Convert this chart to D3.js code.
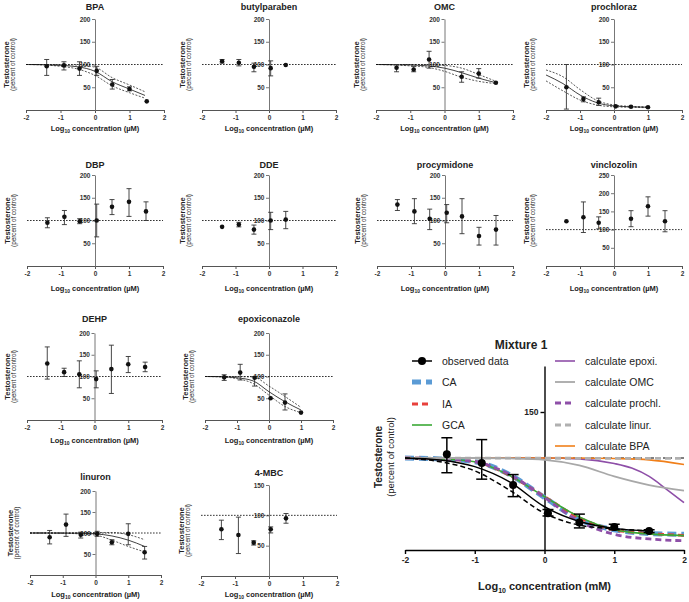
<!DOCTYPE html>
<html><head><meta charset="utf-8">
<script src="https://cdn.jsdelivr.net/npm/d3@7"></script>
<style>body{margin:0;background:#fff}svg{display:block}</style>
</head><body><svg id="c" width="689" height="602"></svg>
<script>
const xTicks=[-2,-1,0,1,2];
// ---- BPA
const bpaX=[-1.4,-0.9,-0.45,0.05,0.5,1,1.5];
const bpaY=[96,98,91,86,56,46,19];
const bpaLo=[76,88,76,76,46,42,null];
const bpaHi=[111,106,106,96,67,51,null];
const bpaCurveX=[-2,-1.5,-1,-0.5,0,0.5,1,1.45];
const bpaFit=[100,99.5,98,95,85,62,46,32];
const bpaUpper=[100,100,99.5,99,94,71,55,40];
const bpaLower=[100,99,96,90,76,53,38,26];
// ---- butylparaben
const butX=[-1.4,-0.9,-0.45,0.05,0.5];
const butY=[107,104,95,92,99];
const butLo=[103,97,84,75,null];
const butHi=[111,111,103,108,null];
// ---- OMC
const omcX=[-1.4,-0.9,-0.45,0.5,1,1.5];
const omcY=[93,89,111,73,80,60];
const omcLo=[84,84,92,61,70,null];
const omcHi=[100,96,129,84,91,null];
const omcCurveX=[-2,-1.5,-1,-0.5,0,0.5,1,1.5];
const omcFit=[100,99.5,99,97,92,82,70,60];
const omcUpper=[100,100,100,99.5,98,92,78,63];
const omcLower=[100,99,97,94,85,72,63,58];
// ---- prochloraz
const proX=[-1.4,-0.9,-0.45,0.05,0.5,1];
const proY=[50,24,17,8,7,6];
const proLo=[2,18,10,null,null,null];
const proHi=[100,29,26,null,null,null];
const proCurveX=[-2,-1.5,-1,-0.5,0,0.5,1];
const proFit=[77,58,33,16,9,7,6];
const proUpper=[88,73,45,21,11,8,7];
const proLower=[64,42,22,11,7,6,5];
// ---- DBP
const dbpX=[-1.4,-0.9,-0.45,0.05,0.5,1,1.5];
const dbpY=[95,108,98.5,100,130,141,120];
const dbpLo=[84,91,93,64,113,109,100];
const dbpHi=[106,122,104,136,146,170,141];
// ---- DDE
const ddeX=[-1.4,-0.9,-0.45,0.05,0.5];
const ddeY=[86,91,80,100,102];
const ddeLo=[null,86,70,80,82];
const ddeHi=[null,96,90,118,120];
// ---- procymidone
const pcyX=[-1.4,-0.9,-0.45,0.05,0.5,1,1.5];
const pcyY=[135,120,104,117,109,66,80];
const pcyLo=[122,93,80,95,71,46,46];
const pcyHi=[146,148,125,135,148,85,111];
// ---- vinclozolin
const vinX=[-1.4,-0.9,-0.45,0.5,1,1.5];
const vinY=[123,134,119,130,164,123];
const vinLo=[null,92,102,108,137,94];
const vinHi=[null,176,135,152,190,152];
// ---- DEHP
const dehX=[-1.4,-0.9,-0.45,0.05,0.5,1,1.5];
const dehY=[130,110,105,94,117,128,122];
const dehLo=[94,100,74,74,61,109,111];
const dehHi=[168,119,136,113,172,146,133];
// ---- epoxiconazole
const epoX=[-1.4,-0.9,-0.45,0.05,0.5,1];
const epoY=[98,109,97,50,40,17];
const epoLo=[91,92,78,null,23,null];
const epoHi=[104,128,100,null,60,null];
const epoCurveX=[-2,-1.5,-1,-0.5,0,0.5,1];
const epoFit=[100,99.5,97,90,65,42,23];
const epoUpper=[100,100,99.5,99,78,54,29];
const epoLower=[100,99,95,84,57,31,17];
// ---- linuron
const linX=[-1.4,-0.9,-0.45,0.05,0.5,1,1.5];
const linY=[90,120,96,98,78,98,54];
const linLo=[74,92,88,92,72,72,38];
const linHi=[106,145,102,104,84,122,68];
const linCurveX=[-2,-1.5,-1,-0.5,0,0.5,1,1.5];
const linFit=[100,100,99.8,99.5,98,93,83,68];
const linUpper=[100,100,100,100.5,101,101,96,84];
const linLower=[100,100,99.5,98,95,83,68,55];
// ---- 4-MBC
const mbcX=[-1.4,-0.9,-0.45,0.05,0.5];
const mbcY=[77,67.5,55,77,95];
const mbcLo=[60,37,51,71,87];
const mbcHi=[92,97,58,81,103];
// ---- Mixture 1
const mixObsX=[-1.4,-0.9,-0.45,0.05,0.5,1,1.5];
const mixObsY=[104,94.5,70.6,40,30,25,20.6];
const mixObsLo=[84,77,58,37,24,22,19];
const mixObsHi=[122,120,82,44,39,28,22];
const mixFitX=[-2,-1.5,-1,-0.5,0,0.5,1,1.5];
const mixFit=[100,97.8,90.6,74,47,31,23.5,20.6];
const mixFitDash=[100,96,86,65,40,27,23,21];
const mixCalcX=[-2,-1.5,-1,-0.5,0,0.5,1,1.5,2];
const caY=[100,99,96,82,57,33,22,18,17];
const iaY=[100,99,96,81,58,35,22,18,16];
const gcaY=[100,99,96,81,58,36,22,17.5,15.6];
const prochlY=[100,99,96,82,57,31,17,12,10];
const epoxiX=[-2,-1,0,0.5,1,1.25,1.5,1.75,2];
const epoxiY=[100,100,100,99,94,89,80,66,51.5];
const omcCalcX=[-2,-1,-0.5,0,0.5,1,1.5,2];
const omcCalcY=[100,100,99.5,98,92,80,70.6,64.5];
const bpaCalcX=[-2,0,0.5,1,1.5,2];
const bpaCalcY=[100,100,100,99.5,98,93];
const linurCalcX=[-2,2];
const linurCalcY=[100,99.5];
const legendLeft=["observed data","CA","IA","GCA"];
const legendRight=["calculate epoxi.","calculate OMC","calculate prochl.","calculate linur.","calculate BPA"];

const FONT='"Liberation Sans", Arial, Helvetica, sans-serif';
const svg=d3.select('#c').attr('font-family',FONT);

const panels=[
 {t:'BPA',xr:[26,164],y0:110,yTop:19,ymax:200,ty:10,ly:131,x:bpaX,y:bpaY,lo:bpaLo,hi:bpaHi,cx:bpaCurveX,fit:bpaFit,up:bpaUpper,dn:bpaLower},
 {t:'butylparaben',xr:[202,336],y0:110,yTop:19,ymax:200,ty:10,ly:131,x:butX,y:butY,lo:butLo,hi:butHi},
 {t:'OMC',xr:[376,513],y0:110,yTop:19,ymax:200,ty:10,ly:131,x:omcX,y:omcY,lo:omcLo,hi:omcHi,cx:omcCurveX,fit:omcFit,up:omcUpper,dn:omcLower},
 {t:'prochloraz',xr:[546,682],y0:110,yTop:19,ymax:200,ty:10,ly:131,x:proX,y:proY,lo:proLo,hi:proHi,cx:proCurveX,fit:proFit,up:proUpper,dn:proLower},
 {t:'DBP',xr:[27,163],y0:266,yTop:175,ymax:200,ty:168,ly:291,x:dbpX,y:dbpY,lo:dbpLo,hi:dbpHi},
 {t:'DDE',xr:[202,336],y0:266,yTop:175,ymax:200,ty:168,ly:291,x:ddeX,y:ddeY,lo:ddeLo,hi:ddeHi},
 {t:'procymidone',xr:[377,513],y0:266,yTop:175,ymax:200,ty:168,ly:291,x:pcyX,y:pcyY,lo:pcyLo,hi:pcyHi},
 {t:'vinclozolin',xr:[546,682],y0:266,yTop:175,ymax:250,ty:168,ly:291,x:vinX,y:vinY,lo:vinLo,hi:vinHi},
 {t:'DEHP',xr:[27,162],y0:420,yTop:333,ymax:200,ty:322,ly:443,x:dehX,y:dehY,lo:dehLo,hi:dehHi},
 {t:'epoxiconazole',xr:[205,333],y0:420,yTop:333,ymax:200,ty:322,ly:443,x:epoX,y:epoY,lo:epoLo,hi:epoHi,cx:epoCurveX,fit:epoFit,up:epoUpper,dn:epoLower},
 {t:'linuron',xr:[30,161],y0:575,yTop:491,ymax:200,ty:480,ly:597,x:linX,y:linY,lo:linLo,hi:linHi,cx:linCurveX,fit:linFit,up:linUpper,dn:linLower},
 {t:'4-MBC',xr:[201,337],y0:576,yTop:485,ymax:150,ty:476,ly:597,x:mbcX,y:mbcY,lo:mbcLo,hi:mbcHi}
];

function styleAxis(a,fs,col){
  a.attr('font-family',FONT);
  a.selectAll('path,line').attr('stroke',col).attr('stroke-width',1);
  a.selectAll('text').attr('font-size',fs).attr('font-weight','bold').attr('fill','#333');
}

function drawPanel(p){
  const g=svg.append('g');
  const xs=d3.scaleLinear().domain([-2,2]).range(p.xr);
  const ys=d3.scaleLinear().domain([0,p.ymax]).range([p.y0,p.yTop]);
  const yt=d3.range(50,p.ymax+1,50);
  const xa=g.append('g').attr('transform',`translate(0,${p.y0})`)
    .call(d3.axisBottom(xs).tickValues(xTicks).tickSize(3).tickSizeOuter(0).tickPadding(2).tickFormat(d=>String(d)));
  const ya=g.append('g').attr('transform',`translate(${xs(0)},0)`)
    .call(d3.axisLeft(ys).tickValues(yt).tickSize(3).tickSizeOuter(0).tickPadding(1.5));
  styleAxis(xa,6.5,'#555');styleAxis(ya,6.5,'#777');
  g.append('line').attr('x1',xs(-2)).attr('x2',xs(2)).attr('y1',ys(100)).attr('y2',ys(100))
    .attr('stroke','#000').attr('stroke-width',0.8).attr('stroke-dasharray','1.6,1.4');
  if(p.cx){
    const mk=arr=>d3.line().x((d,i)=>xs(p.cx[i])).y(d=>ys(d)).curve(d3.curveMonotoneX)(arr);
    g.append('path').attr('d',mk(p.fit)).attr('fill','none').attr('stroke','#111').attr('stroke-width',0.8);
    [p.up,p.dn].forEach(a=>g.append('path').attr('d',mk(a)).attr('fill','none').attr('stroke','#111').attr('stroke-width',0.7).attr('stroke-dasharray','2,1.5'));
  }
  p.x.forEach((xv,i)=>{
    if(p.lo[i]==null) return;
    const X=xs(xv);
    g.append('line').attr('x1',X).attr('x2',X).attr('y1',ys(p.lo[i])).attr('y2',ys(p.hi[i])).attr('stroke','#333').attr('stroke-width',0.9);
    [p.lo[i],p.hi[i]].forEach(v=>g.append('line').attr('x1',X-2.5).attr('x2',X+2.5).attr('y1',ys(v)).attr('y2',ys(v)).attr('stroke','#333').attr('stroke-width',0.9));
  });
  g.selectAll('circle.pt').data(p.x).join('circle').attr('cx',d=>xs(d)).attr('cy',(d,i)=>ys(p.y[i])).attr('r',2.3).attr('fill','#111');
  g.append('text').attr('x',xs(0)).attr('y',p.ty).attr('text-anchor','middle').attr('font-size',9).attr('font-weight','bold').attr('fill','#222').text(p.t);
  const xl=g.append('text').attr('x',xs(0)).attr('y',p.ly).attr('text-anchor','middle').attr('font-size',7.5).attr('font-weight','bold').attr('fill','#222');
  xl.append('tspan').text('Log');
  xl.append('tspan').attr('font-size',5).attr('dy',2).text('10');
  xl.append('tspan').attr('dy',-2).text(' concentration (\u00b5M)');
  const cy=(p.y0+p.yTop)/2;
  g.append('text').attr('transform',`translate(${p.xr[0]-20},${cy}) rotate(-90)`).attr('text-anchor','middle').attr('dy','0.35em')
    .attr('font-size',7.5).attr('font-weight','bold').attr('fill','#222').text('Testosterone');
  g.append('text').attr('transform',`translate(${p.xr[0]-13},${cy}) rotate(-90)`).attr('text-anchor','middle').attr('dy','0.35em')
    .attr('font-size',6.3).attr('fill','#222').text('(percent of control)');
}
panels.forEach(drawPanel);

// ---- Mixture panel
(function(){
  const g=svg.append('g');
  const xs=d3.scaleLinear().domain([-2,2]).range([405,684]);
  const ys=d3.scaleLinear().domain([0,200]).range([550,366]);
  const xa=g.append('g').attr('transform','translate(0,550)')
    .call(d3.axisBottom(xs).tickValues(xTicks).tickSize(4).tickSizeOuter(0).tickPadding(3).tickFormat(d=>String(d)));
  const ya=g.append('g').attr('transform',`translate(${xs(0)},0)`)
    .call(d3.axisLeft(ys).tickValues([150]).tickSize(4).tickSizeOuter(0).tickPadding(2));
  [xa,ya].forEach(a=>{a.attr('font-family',FONT);a.selectAll('path,line').attr('stroke','#000').attr('stroke-width',1.4);
    a.selectAll('text').attr('font-size',8.5).attr('font-weight','bold').attr('fill','#222');});
  g.append('line').attr('x1',xs(-2)).attr('x2',xs(2)).attr('y1',ys(100)).attr('y2',ys(100))
    .attr('stroke','#000').attr('stroke-width',1).attr('stroke-dasharray','3,3');
  const ln=(xa_,ya_)=>d3.line().x((d,i)=>xs(xa_[i])).y(d=>ys(d)).curve(d3.curveMonotoneX)(ya_);
  const styles={
    CA:{stroke:'#5b9bd5',w:5,dash:'9,5'},
    IA:{stroke:'#e8413c',w:2.8,dash:'6,4'},
    GCA:{stroke:'#3aa935',w:1.6,dash:null},
    epoxi:{stroke:'#8e4fa8',w:1.6,dash:null},
    omc:{stroke:'#a8a8a8',w:1.8,dash:null},
    prochl:{stroke:'#8e4fa8',w:2.8,dash:'6,4'},
    linur:{stroke:'#b0b0b0',w:2.8,dash:'6,4'},
    bpa:{stroke:'#f07f1a',w:1.6,dash:null}
  };
  const draw=(d,s)=>g.append('path').attr('d',d).attr('fill','none').attr('stroke',s.stroke).attr('stroke-width',s.w).attr('stroke-dasharray',s.dash);
  draw(ln(mixCalcX,caY),styles.CA);
  draw(ln(mixCalcX,iaY),styles.IA);
  draw(ln(mixCalcX,gcaY),styles.GCA);
  draw(ln(mixCalcX,prochlY),styles.prochl);
  draw(ln(epoxiX,epoxiY),styles.epoxi);
  draw(ln(bpaCalcX,bpaCalcY),styles.bpa);
  draw(ln(linurCalcX,linurCalcY),styles.linur);
  draw(ln(omcCalcX,omcCalcY),styles.omc);
  g.append('path').attr('d',ln(mixFitX,mixFit)).attr('fill','none').attr('stroke','#000').attr('stroke-width',1.5);
  g.append('path').attr('d',ln(mixFitX,mixFitDash)).attr('fill','none').attr('stroke','#000').attr('stroke-width',1.5).attr('stroke-dasharray','5,3');
  mixObsX.forEach((xv,i)=>{
    const X=xs(xv);
    g.append('line').attr('x1',X).attr('x2',X).attr('y1',ys(mixObsLo[i])).attr('y2',ys(mixObsHi[i])).attr('stroke','#000').attr('stroke-width',1.5);
    [mixObsLo[i],mixObsHi[i]].forEach(v=>g.append('line').attr('x1',X-5.5).attr('x2',X+5.5).attr('y1',ys(v)).attr('y2',ys(v)).attr('stroke','#000').attr('stroke-width',1.5));
  });
  g.selectAll('circle.mo').data(mixObsX).join('circle').attr('cx',d=>xs(d)).attr('cy',(d,i)=>ys(mixObsY[i])).attr('r',4).attr('fill','#000');
  // titles & labels
  g.append('text').attr('x',521).attr('y',349).attr('text-anchor','middle').attr('font-size',12).attr('font-weight','bold').attr('fill','#222').text('Mixture 1');
  const xl=g.append('text').attr('x',xs(0)).attr('y',590).attr('text-anchor','middle').attr('font-size',11).attr('font-weight','bold').attr('fill','#222');
  xl.append('tspan').text('Log');
  xl.append('tspan').attr('font-size',7).attr('dy',3).text('10');
  xl.append('tspan').attr('dy',-3).text(' concentration (mM)');
  g.append('text').attr('transform','translate(378,457) rotate(-90)').attr('text-anchor','middle').attr('dy','0.35em')
    .attr('font-size',10).attr('font-weight','bold').attr('fill','#222').text('Testosterone');
  g.append('text').attr('transform','translate(391,457) rotate(-90)').attr('text-anchor','middle').attr('dy','0.35em')
    .attr('font-size',9.5).attr('fill','#222').text('(percent of control)');
  // legend
  const lRows=[361,382,404,425];
  const lStyles=[null,styles.CA,styles.IA,styles.GCA];
  legendLeft.forEach((t,i)=>{
    const y=lRows[i];
    if(i===0){
      g.append('line').attr('x1',412).attr('x2',432).attr('y1',y).attr('y2',y).attr('stroke','#000').attr('stroke-width',1.5);
      g.append('circle').attr('cx',422).attr('cy',y).attr('r',4).attr('fill','#000');
    } else {
      const s=lStyles[i];
      g.append('line').attr('x1',412).attr('x2',432).attr('y1',y).attr('y2',y).attr('stroke',s.stroke).attr('stroke-width',s.w).attr('stroke-dasharray',s.dash);
    }
    g.append('text').attr('x',442).attr('y',y).attr('dy','0.35em').attr('font-size',10.5).attr('fill','#222').text(t);
  });
  const rRows=[361,382,403,425,446];
  const rStyles=[styles.epoxi,styles.omc,styles.prochl,styles.linur,styles.bpa];
  legendRight.forEach((t,i)=>{
    const y=rRows[i], s=rStyles[i];
    g.append('line').attr('x1',555).attr('x2',575).attr('y1',y).attr('y2',y).attr('stroke',s.stroke).attr('stroke-width',Math.min(s.w,2.8)).attr('stroke-dasharray',s.dash);
    g.append('text').attr('x',585).attr('y',y).attr('dy','0.35em').attr('font-size',10.5).attr('fill','#222').text(t);
  });
})();
</script></body></html>
